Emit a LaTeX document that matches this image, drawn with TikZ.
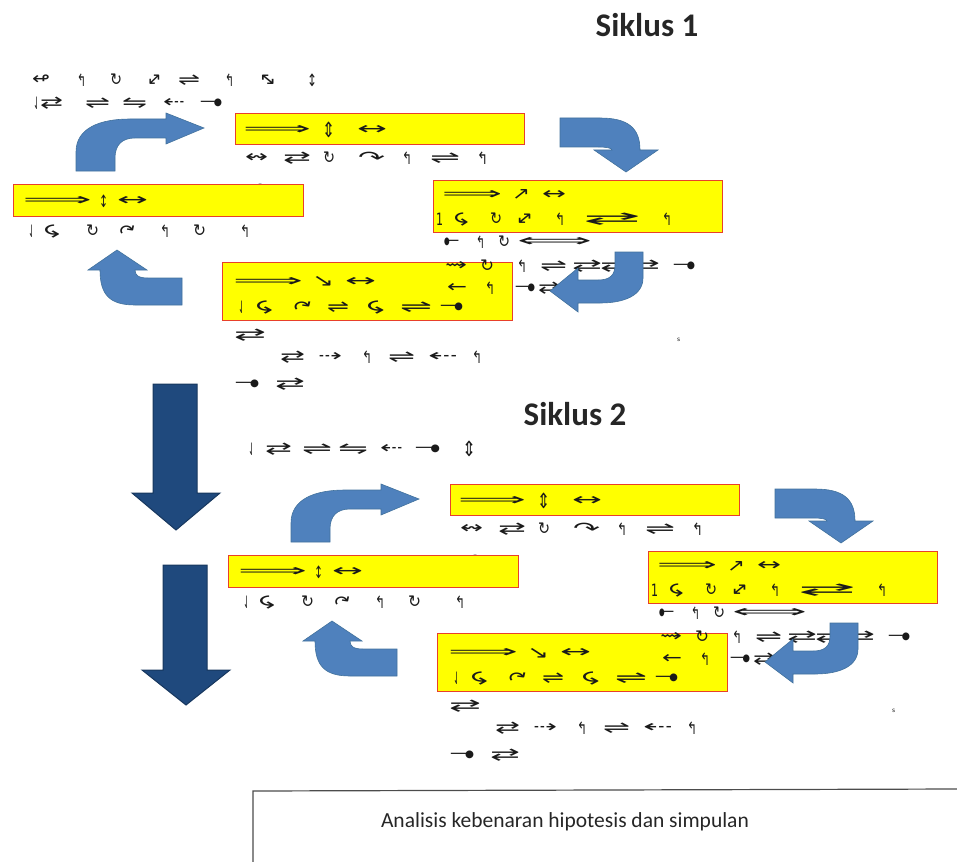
\documentclass[tikz,border=0pt]{standalone}
\usepackage{fontspec}
\usepackage{graphicx}
\setmainfont{Carlito}
\newfontfamily\dejavu{DejaVu Sans}
\definecolor{boxred}{HTML}{E8402A}
\definecolor{boxyel}{HTML}{FFFF00}
\definecolor{arrblue}{HTML}{4F81BD}
\definecolor{arrblueD}{HTML}{41719C}
\definecolor{navyF}{HTML}{1F497D}
\definecolor{navyD}{HTML}{17375E}
\definecolor{glyphc}{HTML}{1A1A1A}
\newcommand\GF{\dejavu\fontsize{17}{19}\selectfont}
\newcommand\dotR{—\kern-0.12em\raisebox{0.08em}{\scalebox{0.6}{●}}}
\newcommand\dotL{\raisebox{0.08em}{\scalebox{0.6}{●}}\kern-0.12em—}
\newcommand\bigU{{\fontsize{21}{23}\selectfont ⇕}}
\newcommand\neS{\rotatebox[origin=c]{45}{↔}}
\newcommand\nwS{\rotatebox[origin=c]{-45}{↔}}
\newcommand\dnR{\rotatebox[origin=c]{90}{↶}}
\newcommand\upR{\rotatebox[origin=c]{35}{↷}}
\newcommand\rtD{↷}
\tikzset{
  ybox/.style={draw=boxred, fill=boxyel, line width=1.4pt, inner sep=0pt, anchor=north west},
  gl/.style={inner sep=0pt, outer sep=0pt, text=glyphc, font=\GF, anchor=west},
  barrow/.style={fill=arrblue, draw=arrblueD, line width=0.6pt},
  narrow/.style={fill=navyF, draw=navyD, line width=1pt},
  title/.style={font=\fontsize{33}{36}\selectfont\bfseries, text=black!85, inner sep=0pt},
}
\newcommand\grow[3]{\foreach \gx/\gw/\gg [count=\gi] in {#3}{\node[gl, name=#1\gi] at (\gx,#2) {\resizebox{\gw pt}{\height}{\gg}};}}
\newcommand\cyc{%
  \node[gl] (hid) at (254,190) {\resizebox{15pt}{\height}{↷}};
  \node[ybox, minimum width=290, minimum height=32] (b2) at (13,184) {};
  \node[ybox, minimum width=289, minimum height=31] (b1) at (235,113) {};
  \node[ybox, minimum width=289, minimum height=52] (b3) at (433,180) {};
  \node[ybox, minimum width=290, minimum height=58] (b4) at (222,262) {};
  \grow{t1-}{130}{243/68/⟹, 322/13/\bigU, 357/30/↔}
  \grow{rc-}{158}{245/23/↭, 283/28/⇄, 323/12/↻, 358/27/\rtD, 402/10/↰, 430/30/⇌, 477/11/↰}
  \grow{t2-}{201}{23/69/⟹, 99/9/↕, 117/31/↔}
  \grow{rd-}{231}{28/7/⇃, 45/20/\dnR, 86/13/↻, 118/22/\upR, 160/10/↰, 193/13/↻, 240/10/↰}
  \grow{t3a-}{195}{442/60/⟹, 512/18/↗, 542/24/↔}
  \grow{t3b-}{219}{436/7/1, 455/18/\dnR, 490/12/↻, 516/20/\neS, 555/10/↰, 583/58/⇄, 662/10/↰}
  \grow{re-}{242}{444/15/\dotL, 476/9/↰, 498/12/↻, 517/75/⟺}
  \grow{t4a-}{282}{233/70/⟹, 312/22/↘, 345/31/↔}
  \grow{t4b-}{307}{238/7/⇃, 257/21/\dnR, 292/25/\upR, 327/22/⇌, 368/22/\dnR, 400/32/⇌, 440/23/\dotR}
  \grow{rf-}{266}{445/22/⇝, 480/14/↻, 517/10/↰, 540/27/⇌, 572/30/⇄, 600/30/⇄, 630/30/⇄, 673/22/\dotR}
  \grow{rg-}{288}{447/20/←, 485/10/↰, 515/20/\dotR, 538/22/⇄}
  \grow{rh-}{335}{234/32/⇄}
  \grow{ri-}{357}{280/25/⇄, 318/24/⇢, 362/10/↰, 388/27/⇌, 428/30/⇠, 472/10/↰}
  \grow{rj-}{384}{235/24/\dotR, 275/30/⇄}
  \node[gl, font=\dejavu\fontsize{6}{7}\selectfont] (tiny) at (677,340) {s};
  % block arrows of the cycle
  \path[barrow] (76,171) -- (76,152) .. controls (76,128) and (100,119) .. (130,119)
     -- (166,119) -- (166,113) -- (204,128) -- (166,144) -- (166,138) -- (135,138)
     .. controls (122,138) and (115,145) .. (115,158) -- (115,171) -- cycle;
  \path[barrow] (560,118) -- (600,118) .. controls (628,118) and (640,128) .. (640,150)
     -- (658,150) -- (626,172) -- (594,150) -- (612,150)
     .. controls (612,148) and (606,147) .. (598,147) -- (560,147) -- cycle;
  \path[barrow] (615,252) -- (643,252) -- (643,278) .. controls (643,295) and (625,303) .. (600,303)
     -- (578,303) -- (578,312) -- (550,291) -- (578,268) -- (578,280) -- (598,280)
     .. controls (610,280) and (615,275) .. (615,265) -- cycle;
  \path[barrow] (182,278) -- (148,278) .. controls (138,278) and (135,275) .. (135,270)
     -- (147,270) -- (117,250) -- (88,270) -- (100,270)
     .. controls (100,295) and (110,305) .. (135,305) -- (182,305) -- cycle;
}
\begin{document}
\begin{tikzpicture}[x=1pt,y=-1pt]
  \useasboundingbox (0,0) rectangle (957,861);
  \node[title] (s1) at (647,25) {Siklus 1};
  \grow{ra-}{80}{32/18/↫, 77/9/↰, 110/12/↻, 147/17/\neS, 178/22/⇌, 225/9/↰, 257/20/\nwS, 307/10/↕}
  \grow{rb-}{103}{33/7/⇃, 40/23/⇄, 85/25/⇌, 122/25/⇋, 163/22/⇠, 200/22/\dotR}
  \cyc
  \node[title] (s2) at (575,414) {Siklus 2};
  \grow{rb2-}{449}{248/7/⇃, 265/27/⇄, 302/30/⇌, 338/30/⇋, 380/23/⇠, 415/25/\dotR, 462/14/\bigU}
  \begin{scope}[shift={(215,371)}, name prefix=c2-]
    \cyc
  \end{scope}
  % navy arrows
  \path[narrow] (153,384) -- (197,384) -- (197,493) -- (220,493) -- (176,530) -- (132,493) -- (153,493) -- cycle;
  \path[narrow] (163,565) -- (207,565) -- (207,670) -- (230,670) -- (186,705) -- (142,670) -- (163,670) -- cycle;
  % conclusion box
  \coordinate (cbl) at (253,880);
  \coordinate (ctl) at (253,791);
  \coordinate (ctr) at (957,789);
  \draw[line width=1.2pt, draw=black!70] (cbl) -- (ctl) -- (ctr);
  \node[font=\fontsize{21.5}{25}\selectfont, text=black!85, inner sep=0pt] (concl) at (565,822) {Analisis kebenaran hipotesis dan simpulan};
\end{tikzpicture}
\end{document}
